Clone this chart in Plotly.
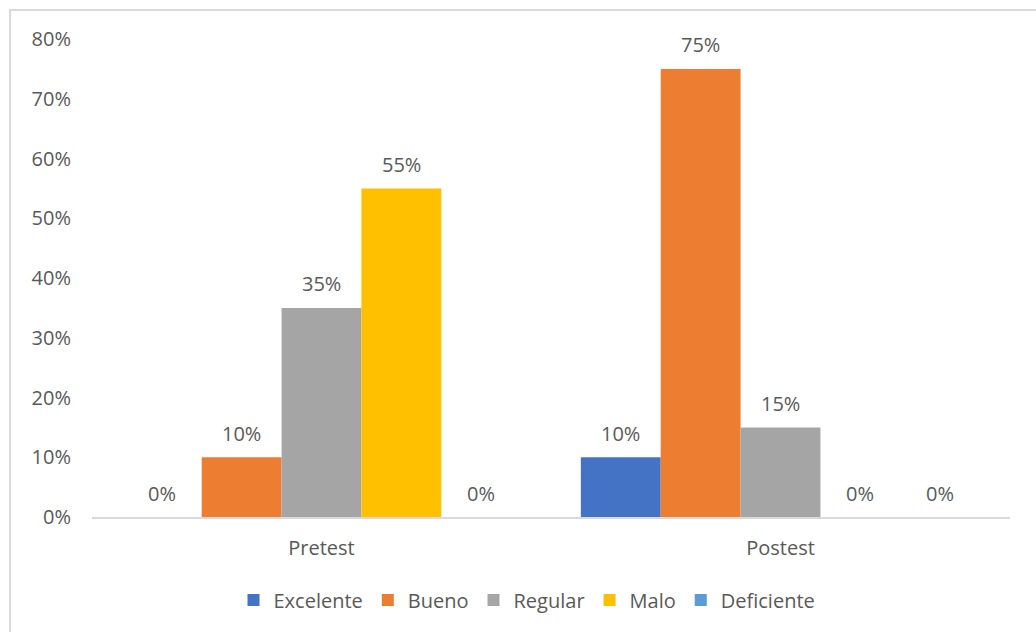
import plotly.graph_objects as go

categories = ["Pretest", "Postest"]
series_names = ["Excelente", "Bueno", "Regular", "Malo", "Deficiente"]
excelente = [0.00, 0.10]
bueno = [0.10, 0.75]
regular = [0.35, 0.15]
malo = [0.55, 0.00]
deficiente = [0.00, 0.00]
colors = ["#4472C4", "#ED7D31", "#A5A5A5", "#FFC000", "#5B9BD5"]
y_ticks = [0, 0.1, 0.2, 0.3, 0.4, 0.5, 0.6, 0.7, 0.8]

values = [excelente, bueno, regular, malo, deficiente]
FONT = "'Open Sans', 'Noto Sans', sans-serif"
FS = 20
TXT = "#595959"
BARGAP = 0.13

fig = go.Figure()
for name, vals, col in zip(series_names, values, colors):
    fig.add_trace(go.Bar(
        name=name, x=categories, y=vals, marker_color=col, marker_line_width=0,
    ))

# data labels placed above each bar (offset computed from the grouped-bar layout)
n = len(series_names)
bar_w = (1 - BARGAP) / n
annotations = []
for i, vals in enumerate(values):
    offset = -(1 - BARGAP) / 2 + bar_w * (i + 0.5)
    for ci, v in enumerate(vals):
        annotations.append(dict(
            x=ci + offset, y=v, xref="x", yref="y", text=f"{v:.0%}",
            showarrow=False, yanchor="middle", yshift=24,
            font=dict(family=FONT, size=FS, color=TXT),
        ))

W, H = 1036, 632
L, R, T, B = 92, 26, 39, 115
pw, ph = W - L - R, H - T - B

def px_x(p):
    return (p - L) / pw

def px_y(p):
    return (H - B - p) / ph

fig.add_shape(type="rect", xref="paper", yref="paper",
              x0=px_x(10), x1=px_x(1045), y0=px_y(645), y1=px_y(10),
              line=dict(color="#D9D9D9", width=2), fillcolor="rgba(0,0,0,0)", layer="below")

fig.update_layout(
    width=W, height=H,
    margin=dict(l=L, r=R, t=T, b=B),
    paper_bgcolor="white", plot_bgcolor="white",
    barmode="group", bargap=BARGAP, bargroupgap=0,
    font=dict(family=FONT, size=FS, color=TXT),
    showlegend=True,
    annotations=annotations,
    legend=dict(orientation="h", x=px_x(527), xanchor="center", y=px_y(600), yanchor="middle",
                font=dict(family=FONT, size=FS, color=TXT), itemwidth=30, traceorder="normal"),
    xaxis=dict(showline=True, linecolor="#D9D9D9", linewidth=1.5, showgrid=False,
               ticks="", ticklabelstandoff=12, tickfont=dict(family=FONT, size=FS, color=TXT)),
    yaxis=dict(range=[0, 0.8], tickvals=y_ticks, tickformat=".0%", showgrid=False,
               zeroline=False, showline=False, ticks="", ticklabelstandoff=20,
               tickfont=dict(family=FONT, size=FS, color=TXT)),
)

fig.write_html("out.html")
